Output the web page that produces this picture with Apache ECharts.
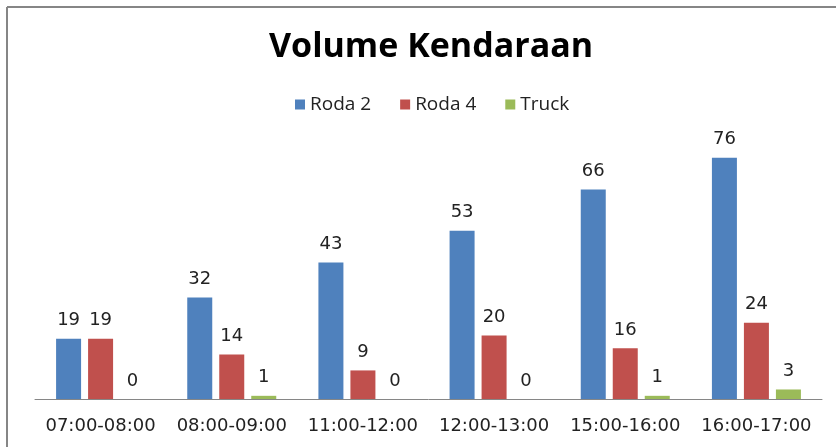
<!DOCTYPE html>
<html>
<head>
<meta charset="utf-8">
<script src="https://cdn.jsdelivr.net/npm/echarts@6/dist/echarts.min.js"></script>
<style>
  * { margin: 0; padding: 0; }
  body { background: #fff; }
</style>
</head>
<body>
<div id="main" style="width:836px;height:447px;"></div>
<script>
// data
var categories = ['07:00-08:00', '08:00-09:00', '11:00-12:00', '12:00-13:00', '15:00-16:00', '16:00-17:00'];
var roda2 = [19, 32, 43, 53, 66, 76];
var roda4 = [19, 14, 9, 20, 16, 24];
var truck = [0, 1, 0, 0, 1, 3];

var labelFont = 'DejaVu Sans';
var label = {
    show: true,
    position: 'top',
    distance: 9,
    color: '#222',
    fontFamily: labelFont,
    fontSize: 18
};

var chart = echarts.init(document.getElementById('main'));
chart.setOption({
    backgroundColor: '#fff',
    animation: false,
    title: {
        text: 'Volume Kendaraan',
        left: 264,
        top: 25,
        textStyle: { fontFamily: 'Open Sans', fontWeight: 'bold', fontSize: 34, color: '#000' }
    },
    legend: {
        data: ['Roda 2', 'Roda 4', 'Truck'],
        top: 90,
        left: 290,
        itemWidth: 10,
        itemHeight: 10,
        itemGap: 29,
        icon: 'rect',
        textStyle: { fontFamily: 'Open Sans', fontSize: 19, color: '#222' }
    },
    grid: { left: 35, right: 14, top: 145, bottom: 48 },
    xAxis: {
        type: 'category',
        data: categories,
        axisLine: { lineStyle: { color: '#868686', width: 1 } },
        axisTick: { show: false },
        axisLabel: { interval: 0, color: '#222', fontFamily: labelFont, fontSize: 18, margin: 18 }
    },
    yAxis: {
        type: 'value',
        min: 0,
        max: 80,
        show: false,
        splitLine: { show: false }
    },
    graphic: [
        { type: 'line', shape: { x1: 7, y1: 7, x2: 836, y2: 7 }, style: { stroke: '#868686', lineWidth: 2 } },
        { type: 'line', shape: { x1: 7, y1: 7, x2: 7, y2: 447 }, style: { stroke: '#868686', lineWidth: 2 } }
    ],
    series: [
        { name: 'Roda 2', type: 'bar', data: roda2, barWidth: 25, barGap: '28%', itemStyle: { color: '#4F81BD' }, label: label },
        { name: 'Roda 4', type: 'bar', data: roda4, barWidth: 25, barGap: '28%', itemStyle: { color: '#C0504D' }, label: label },
        { name: 'Truck', type: 'bar', data: truck, barWidth: 25, barGap: '28%', itemStyle: { color: '#9BBB59' }, label: label }
    ]
});
</script>
</body>
</html>
